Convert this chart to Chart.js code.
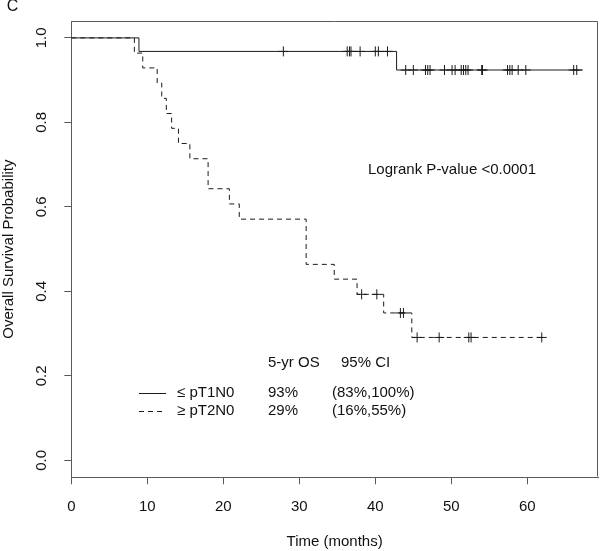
<!DOCTYPE html>
<html>
<head>
<meta charset="utf-8">
<script src="https://cdn.jsdelivr.net/npm/chart.js@4/dist/chart.umd.min.js"></script>
<style>
  html, body { margin: 0; padding: 0; background: #fff; }
  #wrap { width: 604px; height: 551px; }
</style>
</head>
<body>
<div id="wrap"><canvas id="kmChart" width="604" height="551"></canvas></div>
<script>
// step points: time (months) and survival after the step
const solidTimes = [0, 8.9, 42.8, 67.3];
const solidSurv = [1.0, 0.968, 0.924, 0.924];
const solidCensor = [27.9, 36.3, 36.6, 36.8, 38.0, 40.0, 40.4, 41.6, 44.0, 45.0, 46.6, 46.9, 47.2,
    49.1, 50.1, 50.5, 51.3, 51.6, 51.9, 52.2, 54.0, 54.1, 57.4, 57.7, 58.0, 58.8, 59.8, 66.1, 66.5];

const dashedTimes = [0, 8.3, 9.4, 11.3, 11.9, 12.5, 13.2, 14.1, 15.6, 18.0, 20.8, 22.1, 30.9, 34.6, 37.6, 41.1, 44.8, 61.9];
const dashedSurv = [1.0, 0.964, 0.929, 0.893, 0.857, 0.821, 0.786, 0.750, 0.714, 0.643, 0.607, 0.571, 0.464, 0.429, 0.393, 0.349, 0.291, 0.291];
const dashedCensor = [38.2, 40.2, 43.3, 43.7, 45.5, 48.4, 52.3, 52.6, 61.9];

const xTicks = [0, 10, 20, 30, 40, 50, 60];
const yTicks = [0.0, 0.2, 0.4, 0.6, 0.8, 1.0];

const legendLabels = ['\u2264 pT1N0', '\u2265 pT2N0'];
const legendOS = ['93%', '29%'];
const legendCI = ['(83%,100%)', '(16%,55%)'];
const pValueText = 'Logrank P-value <0.0001';

const FONT = '"Liberation Sans", Arial, sans-serif';
const INK = '#1a1a1a';
const FRAME = '#5a5a5a';

function stepPoints(times, surv) {
    return times.map((t, i) => ({ x: t, y: surv[i] }));
}

// survival level at a censoring time, taken from the step arrays
function levelAt(times, surv, t) {
    let s = surv[0];
    for (let i = 0; i < times.length; i++) {
        if (times[i] <= t) s = surv[i];
    }
    return s;
}

function censorPoints(list, times, surv) {
    return list.map(t => ({ x: t, y: levelAt(times, surv, t) }));
}

const extrasPlugin = {
    id: 'extras',
    afterDraw(chart) {
        const ctx = chart.ctx;
        const a = chart.chartArea;
        ctx.save();
        // box around the plot
        ctx.strokeStyle = FRAME;
        ctx.lineWidth = 1;
        ctx.beginPath();
        ctx.moveTo(Math.round(a.left) + 0.5, Math.round(a.top) + 0.5);
        ctx.lineTo(Math.round(a.right) - 0.5, Math.round(a.top) + 0.5);
        ctx.lineTo(Math.round(a.right) - 0.5, Math.round(a.bottom) - 0.5);
        ctx.stroke();

        ctx.fillStyle = '#111';
        ctx.font = '15px ' + FONT;
        ctx.textBaseline = 'middle';
        ctx.textAlign = 'left';
        ctx.fillText(pValueText, 368, 170);

        // legend table
        ctx.fillText('5-yr OS', 268, 363);
        ctx.fillText('95% CI', 341, 363);
        const rows = [393, 411];
        rows.forEach((y, i) => {
            ctx.fillText(legendLabels[i], 177, y);
            ctx.fillText(legendOS[i], 268, y);
            ctx.fillText(legendCI[i], 332, y);
            ctx.beginPath();
            ctx.strokeStyle = INK;
            ctx.setLineDash(i === 0 ? [] : [5, 4]);
            ctx.moveTo(139, Math.round(y) + 0.5);
            ctx.lineTo(166, Math.round(y) + 0.5);
            ctx.stroke();
        });
        ctx.setLineDash([]);

        // panel letter, clipped at the top as in the figure
        ctx.font = '16px ' + FONT;
        ctx.textBaseline = 'alphabetic';
        ctx.textAlign = 'center';
        ctx.fillText('C', 12.5, 11);
        ctx.restore();
    }
};

const ctx = document.getElementById('kmChart').getContext('2d');
new Chart(ctx, {
    type: 'line',
    data: {
        datasets: [
            {
                label: legendLabels[0],
                data: stepPoints(solidTimes, solidSurv),
                stepped: 'before',
                borderColor: INK,
                borderWidth: 1,
                pointRadius: 0,
                fill: false
            },
            {
                label: legendLabels[1],
                data: stepPoints(dashedTimes, dashedSurv),
                stepped: 'before',
                borderColor: INK,
                borderWidth: 1,
                borderDash: [5, 4],
                pointRadius: 0,
                fill: false
            },
            {
                label: 'censored 1',
                type: 'scatter',
                data: censorPoints(solidCensor, solidTimes, solidSurv),
                showLine: false,
                pointStyle: 'cross',
                pointRadius: 5,
                pointBorderWidth: 1,
                borderColor: INK,
                backgroundColor: INK
            },
            {
                label: 'censored 2',
                type: 'scatter',
                data: censorPoints(dashedCensor, dashedTimes, dashedSurv),
                showLine: false,
                pointStyle: 'cross',
                pointRadius: 5,
                pointBorderWidth: 1,
                borderColor: INK,
                backgroundColor: INK
            }
        ]
    },
    options: {
        responsive: false,
        animation: false,
        devicePixelRatio: 1,
        layout: { padding: { top: 1, right: 1, left: 0, bottom: 0 } },
        plugins: {
            legend: { display: false },
            tooltip: { enabled: false }
        },
        scales: {
            x: {
                type: 'linear',
                min: 0,
                max: 69.3,
                afterFit: function (scale) { scale.height = 73.7; },
                afterBuildTicks: function (scale) { scale.ticks = xTicks.map(v => ({ value: v })); },
                grid: { display: true, drawOnChartArea: false, drawTicks: true, tickLength: 7, color: FRAME },
                border: { display: true, color: FRAME },
                ticks: {
                    color: '#111',
                    font: { family: FONT, size: 15 },
                    padding: 14,
                    maxRotation: 0,
                    callback: v => String(v)
                },
                title: {
                    display: true,
                    text: 'Time (months)',
                    color: '#111',
                    font: { family: FONT, size: 15 },
                    padding: { top: 0, bottom: 0 }
                }
            },
            y: {
                type: 'linear',
                min: -0.04,
                max: 1.04,
                afterFit: function (scale) { scale.width = 71.3; },
                afterBuildTicks: function (scale) { scale.ticks = yTicks.map(v => ({ value: v })); },
                grid: { display: true, drawOnChartArea: false, drawTicks: true, tickLength: 7, color: FRAME },
                border: { display: true, color: FRAME },
                ticks: {
                    color: '#111',
                    font: { family: FONT, size: 15 },
                    padding: 12,
                    minRotation: 90,
                    maxRotation: 90,
                    crossAlign: 'center',
                    callback: v => v.toFixed(1)
                },
                title: {
                    display: true,
                    text: 'Overall Survival Probability',
                    color: '#111',
                    font: { family: FONT, size: 15 },
                    padding: { top: 0, bottom: 0 }
                }
            }
        }
    },
    plugins: [extrasPlugin]
});
</script>
</body>
</html>
